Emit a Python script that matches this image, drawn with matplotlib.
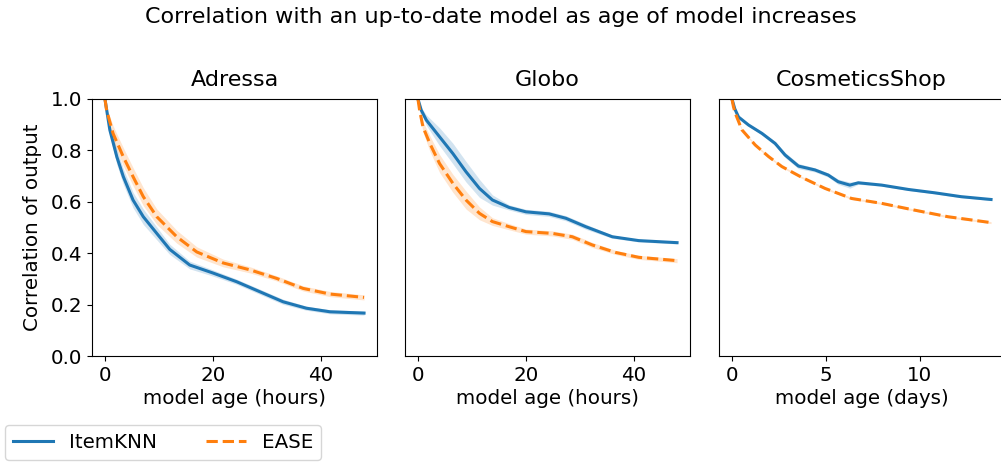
import numpy as np
import matplotlib
matplotlib.use("Agg")
import matplotlib.pyplot as plt

# Adressa (hours)
adr_knn_x = [0, 0.9, 2.2, 3.4, 5.2, 7.1, 9.6, 12, 15.7, 20, 24.4, 28.7, 33, 37.3, 41.7, 48]
adr_knn_y = [1.0, 0.88, 0.775, 0.698, 0.607, 0.542, 0.477, 0.415, 0.354, 0.323, 0.289, 0.25, 0.211, 0.186, 0.172, 0.167]
adr_knn_err = [0.0, 0.02, 0.03, 0.03, 0.03, 0.03, 0.025, 0.02, 0.015, 0.012, 0.01, 0.01, 0.01, 0.008, 0.008, 0.008]
adr_ease_x = [0, 0.3, 1.5, 3.4, 5.2, 7.1, 9.6, 13.3, 17, 21.9, 26.9, 31.8, 36.7, 41.7, 48]
adr_ease_y = [1.0, 0.957, 0.866, 0.775, 0.698, 0.62, 0.542, 0.464, 0.405, 0.362, 0.335, 0.302, 0.263, 0.241, 0.228]
adr_ease_err = [0.0, 0.01, 0.03, 0.035, 0.035, 0.035, 0.03, 0.025, 0.02, 0.015, 0.012, 0.01, 0.01, 0.01, 0.01]

# Globo (hours)
glo_knn_x = [0, 0.6, 1.55, 4, 6.46, 8.9, 11.4, 13.8, 16.9, 20, 24.3, 27.4, 31.1, 36, 40.9, 48]
glo_knn_y = [1.0, 0.957, 0.918, 0.853, 0.788, 0.717, 0.652, 0.607, 0.578, 0.561, 0.553, 0.536, 0.503, 0.464, 0.449, 0.441]
glo_knn_err = [0.0, 0.01, 0.02, 0.035, 0.04, 0.04, 0.035, 0.02, 0.01, 0.01, 0.01, 0.01, 0.01, 0.006, 0.005, 0.005]
glo_ease_x = [0, 0.3, 0.92, 2.2, 4, 6.46, 8.9, 11.4, 13.8, 16.9, 20, 24.9, 28.6, 32.3, 36.6, 40.9, 48]
glo_ease_y = [1.0, 0.957, 0.892, 0.827, 0.749, 0.672, 0.607, 0.555, 0.523, 0.503, 0.484, 0.477, 0.464, 0.432, 0.403, 0.384, 0.371]
glo_ease_err = [0.0, 0.01, 0.02, 0.03, 0.035, 0.035, 0.035, 0.025, 0.015, 0.012, 0.01, 0.01, 0.01, 0.01, 0.008, 0.008, 0.008]

# CosmeticsShop (days)
cos_knn_x = [0, 0.15, 0.35, 0.88, 1.6, 2.3, 2.83, 3.54, 4.42, 5.13, 5.66, 6.28, 6.73, 7.97, 9.4, 10.8, 12.2, 13.8]
cos_knn_y = [1.0, 0.962, 0.93, 0.899, 0.866, 0.827, 0.782, 0.739, 0.724, 0.704, 0.678, 0.665, 0.674, 0.665, 0.648, 0.635, 0.62, 0.609]
cos_knn_err = [0.0, 0.004, 0.005, 0.005, 0.006, 0.008, 0.01, 0.01, 0.008, 0.008, 0.01, 0.012, 0.006, 0.004, 0.004, 0.004, 0.004, 0.004]
cos_ease_x = [0, 0.08, 0.18, 0.53, 1.24, 1.95, 2.66, 3.72, 4.96, 6.37, 7.97, 9.7, 11.5, 13.8]
cos_ease_y = [1.0, 0.97, 0.944, 0.88, 0.821, 0.776, 0.737, 0.695, 0.652, 0.613, 0.594, 0.568, 0.542, 0.519]
cos_ease_err = [0.0, 0.004, 0.004, 0.004, 0.004, 0.004, 0.004, 0.004, 0.004, 0.004, 0.004, 0.004, 0.004, 0.004]

titles = ["Adressa", "Globo", "CosmeticsShop"]
xlabels = ["model age (hours)", "model age (hours)", "model age (days)"]
panels = [
    (adr_knn_x, adr_knn_y, adr_knn_err, adr_ease_x, adr_ease_y, adr_ease_err),
    (glo_knn_x, glo_knn_y, glo_knn_err, glo_ease_x, glo_ease_y, glo_ease_err),
    (cos_knn_x, cos_knn_y, cos_knn_err, cos_ease_x, cos_ease_y, cos_ease_err),
]

plt.rcParams["font.size"] = 14.3
fig = plt.figure(figsize=(10.01, 4.65), dpi=100)
lefts = [92, 405, 719]
axes = [fig.add_axes([l / 1001, (465 - 356) / 465, 285 / 1001, 257 / 465]) for l in lefts]

for i, (ax, (kx, ky, ke, ex, ey, ee)) in enumerate(zip(axes, panels)):
    kx, ky, ke = map(np.array, (kx, ky, ke))
    ex, ey, ee = map(np.array, (ex, ey, ee))
    ax.fill_between(kx, ky - ke, ky + ke, color="C0", alpha=0.2, lw=0)
    ax.fill_between(ex, ey - ee, ey + ee, color="C1", alpha=0.2, lw=0)
    ax.plot(kx, ky, color="C0", lw=2.2, label="ItemKNN")
    ax.plot(ex, ey, color="C1", lw=2.2, ls="--", label="EASE")
    ax.set_ylim(0, 1)
    ax.set_title(titles[i], fontsize=16, pad=9)
    ax.set_xlabel(xlabels[i], labelpad=3)
    if i == 0:
        ax.set_ylabel("Correlation of output", labelpad=6)
    else:
        ax.tick_params(left=False, labelleft=False)

handles, labels = axes[0].get_legend_handles_labels()
fig.legend(handles, labels, ncol=2, loc="lower left", bbox_to_anchor=(5 / 1001, 5 / 465),
           borderaxespad=0, fontsize=14.3, columnspacing=2.5)
fig.suptitle("Correlation with an up-to-date model as age of model increases",
             fontsize=16, y=0.985)
fig.savefig("out.png", dpi=100)
